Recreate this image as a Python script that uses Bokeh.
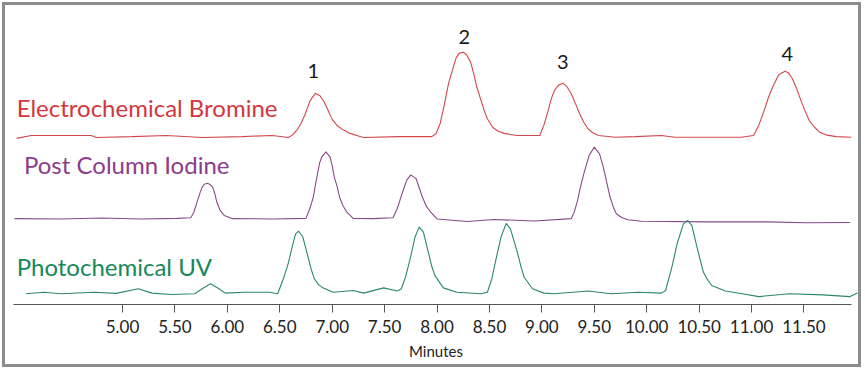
from bokeh.plotting import figure
from bokeh.models import FixedTicker
from bokeh.core.properties import value
from bokeh.embed import file_html
from bokeh.resources import INLINE

# ---------------- data (minutes, detector signal) ----------------
bromine_t = [3.99, 4.13, 4.70, 4.75, 5.09, 5.42, 5.76, 6.14, 6.43, 6.58,
             6.62, 6.66, 6.70, 6.74, 6.79, 6.84, 6.88, 6.92, 6.96, 7.00, 7.05, 7.10, 7.17, 7.25, 7.30,
             7.63, 7.95, 7.99, 8.03, 8.07, 8.11, 8.18, 8.21, 8.25, 8.28, 8.32, 8.35, 8.38, 8.45, 8.48, 8.53, 8.58, 8.64, 8.76, 8.90,
             8.98, 9.02, 9.06, 9.09, 9.12, 9.16, 9.20, 9.24, 9.28, 9.32, 9.36, 9.40, 9.44, 9.48, 9.54, 9.70, 9.89, 10.14, 10.27, 10.90,
             11.02, 11.07, 11.12, 11.16, 11.20, 11.26, 11.32, 11.35, 11.39, 11.43, 11.47, 11.51, 11.55, 11.60, 11.65, 11.72, 11.81, 11.95]
bromine_s = [56.9, 57.9, 57.9, 57.2, 57.5, 57.9, 57.2, 57.5, 57.9, 57.2,
             58.0, 59.6, 61.8, 65.0, 69.9, 72.3, 71.6, 69.6, 66.5, 63.4, 61.2, 59.9, 58.6, 57.7, 57.2,
             57.5, 57.5, 58.5, 62.0, 68.5, 75.7, 84.3, 86.0, 86.4, 85.6, 83.0, 79.0, 74.4, 66.4, 63.6, 60.7, 59.4, 58.6, 57.9, 57.9,
             57.9, 61.5, 66.4, 70.5, 73.3, 75.2, 75.8, 74.6, 72.2, 68.8, 65.3, 62.4, 60.2, 58.9, 57.9, 57.3, 57.5, 57.9, 57.3, 57.3,
             57.9, 61.5, 66.4, 70.8, 74.4, 78.8, 79.9, 79.4, 77.3, 74.0, 69.9, 66.3, 63.0, 60.7, 59.0, 58.0, 57.5, 57.3]

iodine_t = [3.97, 4.41, 4.80, 5.18, 5.52, 5.65, 5.68, 5.71, 5.74, 5.76, 5.78, 5.81, 5.83, 5.86, 5.88, 5.90, 5.93, 5.97, 6.05, 6.43,
            6.75, 6.79, 6.82, 6.84, 6.86, 6.88, 6.90, 6.94, 6.98, 7.00, 7.02, 7.05, 7.07, 7.10, 7.14, 7.20, 7.39,
            7.58, 7.62, 7.66, 7.69, 7.71, 7.75, 7.80, 7.83, 7.86, 7.90, 7.94, 8.00, 8.29, 8.54, 8.93,
            9.28, 9.31, 9.34, 9.37, 9.40, 9.45, 9.50, 9.55, 9.58, 9.60, 9.65, 9.68, 9.71, 9.76, 9.82, 9.95, 10.56, 11.14, 11.52, 11.94]
iodine_s = [29.4, 29.3, 29.6, 29.3, 29.5, 29.7, 31.5, 35.0, 38.3, 40.2, 41.2, 41.5, 41.2, 40.2, 38.0, 35.0, 32.3, 30.5, 29.4, 29.3,
            29.5, 33.2, 36.8, 41.0, 44.8, 48.5, 50.5, 52.3, 50.5, 47.5, 43.6, 40.0, 36.8, 34.0, 31.6, 29.5, 29.4,
            29.7, 32.8, 37.3, 40.5, 42.5, 44.4, 43.1, 40.0, 36.8, 33.5, 31.6, 29.3, 28.4, 29.1, 28.6,
            29.4, 31.8, 35.6, 40.5, 44.8, 51.0, 53.9, 51.6, 47.8, 44.8, 36.8, 33.5, 31.1, 29.8, 29.0, 28.5, 28.3, 28.3, 28.0, 28.1]

uv_t = [4.08, 4.25, 4.41, 4.73, 4.94, 5.15, 5.28, 5.47, 5.69, 5.76, 5.84, 5.92, 5.98, 6.17, 6.40, 6.48,
        6.54, 6.58, 6.61, 6.65, 6.68, 6.72, 6.77, 6.80, 6.83, 6.87, 6.91, 7.01, 7.20, 7.30, 7.49, 7.62,
        7.66, 7.70, 7.74, 7.79, 7.83, 7.87, 7.92, 7.95, 7.98, 8.06, 8.19, 8.42,
        8.48, 8.52, 8.56, 8.61, 8.66, 8.70, 8.77, 8.80, 8.83, 8.91, 9.02, 9.12, 9.44, 9.66, 9.92, 10.14,
        10.18, 10.24, 10.29, 10.35, 10.39, 10.43, 10.48, 10.54, 10.58, 10.62, 10.75, 10.91, 11.07, 11.36, 11.68, 11.94, 12.01]
uv_s = [3.7, 4.2, 3.7, 4.2, 3.8, 5.4, 3.9, 3.4, 3.7, 5.4, 7.1, 5.4, 3.9, 4.2, 4.2, 3.7,
        9.4, 14.0, 18.5, 24.2, 25.1, 23.1, 16.2, 12.0, 8.8, 6.8, 5.7, 4.2, 4.8, 3.9, 5.7, 4.6,
        5.4, 9.5, 15.1, 23.1, 26.5, 24.8, 17.4, 13.0, 9.9, 5.7, 4.2, 3.7,
        4.2, 8.5, 15.1, 23.1, 27.8, 25.9, 17.4, 13.0, 9.4, 5.4, 3.9, 3.7, 4.6, 3.7, 4.2, 3.9,
        4.8, 12.8, 20.8, 27.6, 28.8, 27.1, 19.6, 11.1, 8.5, 6.5, 4.6, 3.7, 2.7, 3.7, 3.3, 2.7, 3.9]

trace_names = ["Electrochemical Bromine", "Post Column Iodine", "Photochemical UV"]
peak_numbers = ["1", "2", "3", "4"]
peak_number_t = [6.82, 8.26, 9.20, 11.34]
peak_number_s = [80.0, 91.7, 83.1, 85.7]

tick_values = [5.0, 5.5, 6.0, 6.5, 7.0, 7.5, 8.0, 8.5, 9.0, 9.5, 10.0, 10.5, 11.0, 11.5]
tick_labels = ["5.00", "5.50", "6.00", "6.50", "7.00", "7.50", "8.00", "8.50",
               "9.00", "9.50", "10.00", "10.50", "11.00", "11.50"]

# ---------------- styling ----------------
FONT = "Lato"
text_colors = ["#d2373d", "#8c3c8c", "#16875a"]
line_colors = ["#d3474c", "#874a87", "#2c8767"]

p = figure(width=859, height=365, x_range=(3.96, 12.02), y_range=(0, 100),
           output_backend="svg", toolbar_location=None, y_axis_location=None,
           min_border_left=8, min_border_right=6, min_border_top=7, min_border_bottom=66)
p.styles = {"margin": "2px", "border": "3px solid #8c8c8c"}
p.outline_line_color = None
p.grid.visible = False
p.background_fill_color = "white"
p.border_fill_color = "white"

xa = p.xaxis[0]
xa.ticker = FixedTicker(ticks=tick_values)
xa.major_label_overrides = {v: l for v, l in zip(tick_values, tick_labels)}
xa.bounds = (3.96, 11.95)
xa.axis_label = "Minutes"
xa.axis_line_color = "#555555"
xa.major_tick_line_color = "#555555"
xa.minor_tick_line_color = None
xa.major_tick_in = 0
xa.major_tick_out = 8
xa.major_label_standoff = 7
xa.major_label_text_font = FONT
xa.major_label_text_font_size = "17px"
xa.major_label_text_color = "#222222"
xa.axis_label_text_font = FONT
xa.axis_label_text_font_size = "15px"
xa.axis_label_text_font_style = "normal"
xa.axis_label_text_color = "#222222"
xa.axis_label_standoff = 6

series = [(bromine_t, bromine_s), (iodine_t, iodine_s), (uv_t, uv_s)]
for (t, s), c in zip(series, line_colors):
    p.line(t, s, line_color=c, line_width=1.1)

# trace labels
label_t = [3.99, 4.06, 3.99]
label_s = [67.4, 48.0, 13.1]
for name, lt, ls, c in zip(trace_names, label_t, label_s, text_colors):
    p.text(x=[lt], y=[ls], text=[name], text_font=value(FONT), text_font_size=value("24px"),
           text_color=c, text_align="left", text_baseline="alphabetic")

# peak numbers
p.text(x=peak_number_t, y=peak_number_s, text=peak_numbers, text_font=value(FONT),
       text_font_size=value("20px"), text_color="#1a1a1a", text_align="center",
       text_baseline="alphabetic")

open("out.html", "w").write(file_html(p, INLINE))
